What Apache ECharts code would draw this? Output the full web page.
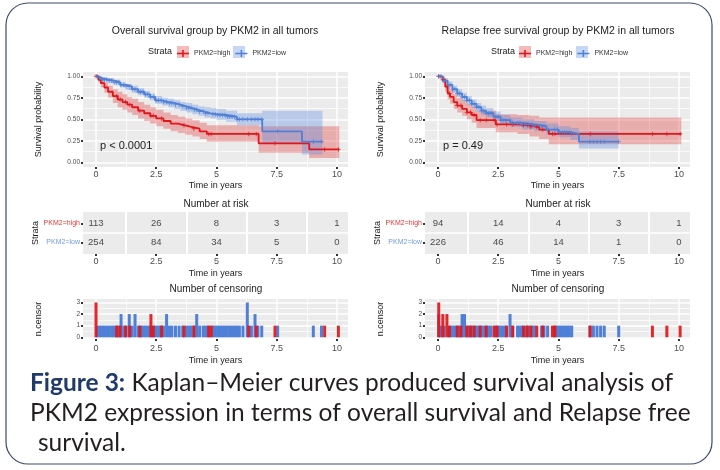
<!DOCTYPE html>
<html>
<head>
<meta charset="utf-8">
<script src="https://cdn.jsdelivr.net/npm/echarts@6/dist/echarts.min.js"></script>
<style>
  html, body { margin: 0; padding: 0; background: #fff; }
  #chart { width: 720px; height: 470px; }
</style>
</head>
<body>
<div id="chart"></div>
<script>
// ---- values ----
const strata = ['PKM2=high', 'PKM2=low'];
const panelTitles = ['Overall survival group by PKM2 in all tumors', 'Relapse free survival group by PKM2 in all tumors'];
const pValues = ['p < 0.0001', 'p = 0.49'];

const timeTicks = [0, 2.5, 5, 7.5, 10];
const timeMinor = [1.25, 3.75, 6.25, 8.75];
const survTicks = [0, 0.25, 0.5, 0.75, 1];
const survMinor = [0.125, 0.375, 0.625, 0.875];
const censorTicks = [0, 1, 2, 3];
const censorMinor = [0.5, 1.5, 2.5];

// overall survival, PKM2=high
const osHighTime  = [0, 0.1, 0.2, 0.35, 0.5, 0.7, 0.9, 1.1, 1.3, 1.5, 1.75, 2.0, 2.25, 2.5, 2.8, 3.1, 3.4, 3.7, 4.0, 4.3, 4.6, 6.75, 8.85, 10.1];
const osHighSurv  = [1, 0.96, 0.92, 0.87, 0.82, 0.77, 0.73, 0.7, 0.67, 0.64, 0.6, 0.57, 0.54, 0.51, 0.48, 0.45, 0.43, 0.41, 0.39, 0.36, 0.33, 0.22, 0.15, 0.15];
const osHighLower = [1, 0.93, 0.87, 0.81, 0.75, 0.69, 0.64, 0.61, 0.58, 0.55, 0.51, 0.48, 0.45, 0.42, 0.39, 0.36, 0.34, 0.32, 0.3, 0.27, 0.24, 0.11, 0.05, 0.05];
const osHighUpper = [1, 1, 0.97, 0.93, 0.89, 0.85, 0.82, 0.79, 0.76, 0.74, 0.7, 0.67, 0.64, 0.61, 0.58, 0.55, 0.53, 0.51, 0.49, 0.46, 0.43, 0.42, 0.42, 0.42];

// overall survival, PKM2=low
const osLowTime  = [0, 0.1, 0.25, 0.5, 0.75, 1.0, 1.25, 1.5, 1.75, 2.0, 2.25, 2.45, 2.75, 3.0, 3.25, 3.5, 3.75, 4.0, 4.25, 4.5, 4.75, 5.0, 5.4, 5.85, 6.9, 8.55, 9.4];
const osLowSurv  = [1, 0.98, 0.96, 0.95, 0.93, 0.9, 0.88, 0.85, 0.82, 0.79, 0.76, 0.72, 0.7, 0.69, 0.67, 0.65, 0.63, 0.61, 0.59, 0.57, 0.56, 0.55, 0.53, 0.5, 0.36, 0.24, 0.24];
const osLowLower = [1, 0.96, 0.94, 0.92, 0.9, 0.87, 0.84, 0.81, 0.78, 0.75, 0.72, 0.68, 0.66, 0.64, 0.62, 0.6, 0.58, 0.56, 0.54, 0.52, 0.51, 0.49, 0.47, 0.43, 0.22, 0.09, 0.09];
const osLowUpper = [1, 1, 0.99, 0.98, 0.96, 0.93, 0.91, 0.89, 0.86, 0.83, 0.8, 0.77, 0.75, 0.74, 0.72, 0.7, 0.69, 0.67, 0.65, 0.64, 0.63, 0.62, 0.6, 0.57, 0.6, 0.6, 0.6];

// relapse free survival, PKM2=high
const rfsHighTime  = [0, 0.1, 0.2, 0.3, 0.4, 0.5, 0.65, 0.8, 1.0, 1.2, 1.4, 1.6, 2.4, 3.3, 3.8, 4.2, 4.6, 10.1];
const rfsHighSurv  = [1, 0.99, 0.96, 0.88, 0.8, 0.76, 0.7, 0.66, 0.62, 0.58, 0.55, 0.49, 0.44, 0.43, 0.41, 0.38, 0.33, 0.33];
const rfsHighLower = [1, 0.97, 0.92, 0.82, 0.73, 0.68, 0.62, 0.58, 0.54, 0.5, 0.46, 0.4, 0.35, 0.33, 0.3, 0.27, 0.21, 0.21];
const rfsHighUpper = [1, 1, 1, 0.94, 0.87, 0.84, 0.79, 0.75, 0.72, 0.68, 0.65, 0.6, 0.56, 0.55, 0.54, 0.52, 0.52, 0.52];

// relapse free survival, PKM2=low
const rfsLowTime  = [0, 0.2, 0.4, 0.6, 0.8, 1.0, 1.2, 1.4, 1.6, 1.8, 2.0, 2.3, 2.6, 3.0, 3.5, 4.0, 4.5, 5.0, 5.5, 5.85, 7.5];
const rfsLowSurv  = [1, 0.95, 0.9, 0.85, 0.8, 0.76, 0.72, 0.68, 0.64, 0.6, 0.57, 0.53, 0.49, 0.46, 0.44, 0.42, 0.38, 0.35, 0.33, 0.24, 0.24];
const rfsLowLower = [1, 0.92, 0.86, 0.81, 0.76, 0.71, 0.67, 0.63, 0.59, 0.55, 0.52, 0.48, 0.44, 0.41, 0.38, 0.36, 0.32, 0.29, 0.26, 0.16, 0.16];
const rfsLowUpper = [1, 0.98, 0.94, 0.89, 0.85, 0.81, 0.77, 0.73, 0.69, 0.66, 0.63, 0.59, 0.55, 0.52, 0.5, 0.48, 0.45, 0.42, 0.4, 0.36, 0.36];

// number at risk
const riskTimes = [0, 2.5, 5, 7.5, 10];
const osHighRisk = [113, 26, 8, 3, 1];
const osLowRisk = [254, 84, 34, 5, 0];
const rfsHighRisk = [94, 14, 4, 3, 1];
const rfsLowRisk = [226, 46, 14, 1, 0];

// censoring: [time, n.censor]
const osHighCensor = [[0, 3], [0.86, 1], [1.0, 1], [1.23, 1], [1.4, 1], [1.82, 1], [2.28, 2], [2.38, 1], [2.72, 1], [3.65, 1], [4.06, 1], [4.68, 1], [4.78, 1], [6.34, 1], [6.65, 1], [7.43, 1], [9.49, 1], [10.06, 1]];
const osLowCensor = [[0.05, 1], [0.15, 1], [0.25, 1], [0.35, 1], [0.45, 1], [0.55, 1], [0.65, 1], [0.75, 1], [0.85, 1], [0.95, 1], [1.04, 2], [1.15, 1], [1.25, 1], [1.38, 2], [1.5, 1], [1.62, 2], [1.75, 1], [1.85, 1], [1.95, 1], [2.05, 1], [2.15, 1], [2.25, 1], [2.4, 1], [2.5, 1], [2.6, 1], [2.7, 1], [2.8, 1], [2.93, 2], [3.05, 1], [3.15, 1], [3.3, 1], [3.45, 1], [3.6, 1], [3.75, 1], [3.85, 1], [3.95, 1], [4.08, 1], [4.18, 2], [4.3, 1], [4.45, 1], [4.55, 1], [4.65, 1], [4.85, 1], [4.95, 1], [5.05, 1], [5.15, 1], [5.25, 1], [5.35, 1], [5.45, 1], [5.55, 1], [5.65, 1], [5.75, 1], [5.85, 1], [5.95, 1], [6.1, 1], [6.28, 3], [6.45, 1], [6.6, 2], [6.72, 1], [6.88, 1], [7.54, 1], [9.02, 1], [9.36, 1]];
const rfsHighCensor = [[0.03, 3], [0.2, 2], [0.37, 2], [0.47, 1], [0.8, 1], [0.95, 1], [1.2, 1], [1.35, 1], [1.5, 1], [1.75, 1], [2.0, 1], [2.33, 1], [2.45, 1], [2.85, 1], [3.1, 1], [3.55, 1], [3.7, 1], [3.85, 1], [4.1, 1], [4.35, 1], [4.75, 1], [4.85, 1], [6.32, 1], [8.9, 1], [9.5, 1], [10.05, 1]];
const rfsLowCensor = [[0.03, 2], [0.12, 1], [0.25, 1], [0.5, 1], [0.6, 1], [0.7, 1], [0.8, 1], [0.9, 1], [1.0, 2], [1.1, 2], [1.2, 1], [1.3, 1], [1.4, 1], [1.5, 1], [1.6, 1], [1.7, 1], [1.8, 1], [1.9, 1], [2.0, 1], [2.1, 1], [2.2, 1], [2.4, 1], [2.5, 1], [2.6, 1], [2.7, 1], [2.8, 1], [2.99, 2], [3.1, 1], [3.3, 1], [3.4, 1], [3.5, 1], [3.65, 1], [3.75, 1], [3.9, 1], [4.0, 1], [4.3, 1], [4.4, 1], [4.55, 1], [4.85, 1], [4.95, 1], [5.05, 1], [5.15, 1], [5.25, 1], [5.35, 1], [5.45, 1], [5.55, 1], [6.3, 1], [6.45, 1], [6.6, 1], [6.75, 1], [6.9, 1], [7.5, 1]];

// ---- chart ----
const FONT = '"Liberation Sans", Arial, sans-serif';
const RED = '#e0161b', BLUE = '#4f7fd6';
const RED_BAND = 'rgba(226,50,50,0.33)', BLUE_BAND = 'rgba(90,140,225,0.35)';
const PLUS = 'path://M4,0h2v4h4v2h-4v4h-2v-4h-4v-2h4z';

const panels = [
  { left: 83, high: [osHighTime, osHighSurv, osHighLower, osHighUpper, osHighCensor, osHighRisk],
    low: [osLowTime, osLowSurv, osLowLower, osLowUpper, osLowCensor, osLowRisk] },
  { left: 425, high: [rfsHighTime, rfsHighSurv, rfsHighLower, rfsHighUpper, rfsHighCensor, rfsHighRisk],
    low: [rfsLowTime, rfsLowSurv, rfsLowLower, rfsLowUpper, rfsLowCensor, rfsLowRisk] }
];

const grids = [], xAxes = [], yAxes = [], series = [];

function stepValue(times, surv, t) {
  let v = surv[0];
  for (let i = 0; i < times.length; i++) if (times[i] <= t) v = surv[i];
  return v;
}

// a visible axis plus an invisible twin that only carries the minor grid lines
function addAxis(list, gridIndex, base, major, minor, majorWidth, minorWidth) {
  const common = { gridIndex, type: 'value', min: base.min, max: base.max, axisLine: { show: false, onZero: false } };
  list.push(Object.assign({}, common, base, {
    axisTick: { show: true, length: 2, lineStyle: { color: '#333', width: 2 }, customValues: major },
    axisLabel: Object.assign({ customValues: major, fontFamily: FONT, color: '#4d4d4d' }, base.axisLabel),
    splitLine: { show: majorWidth > 0, lineStyle: { color: '#fff', width: majorWidth } }
  }));
  const idx = list.length - 1;
  if (minor) {
    list.push(Object.assign({}, common, {
      axisTick: { show: false, customValues: minor },
      axisLabel: { show: false, customValues: minor },
      splitLine: { show: true, lineStyle: { color: '#fff', width: minorWidth } }
    }));
  }
  return idx;
}

const nameStyle = { fontSize: 9, color: '#222', fontFamily: FONT };
const timeLabel = (margin) => ({ fontSize: 9, margin, formatter: v => String(v) });

function bandSeries(times, lo, hi, color, xi, yi) {
  return {
    type: 'custom', xAxisIndex: xi, yAxisIndex: yi, silent: true, z: 1,
    data: times.map((t, i) => [t, lo[i], hi[i]]),
    encode: { x: 0, y: [1, 2] },
    renderItem(params, api) {
      if (params.dataIndex !== 0) return null;
      const pts = [];
      for (let i = 0; i < times.length - 1; i++) {
        pts.push(api.coord([times[i], hi[i]]), api.coord([times[i + 1], hi[i]]));
      }
      for (let i = times.length - 2; i >= 0; i--) {
        pts.push(api.coord([times[i + 1], lo[i]]), api.coord([times[i], lo[i]]));
      }
      return { type: 'polygon', shape: { points: pts }, style: { fill: color } };
    }
  };
}

panels.forEach((p) => {
  // survival curves
  const gKm = grids.push({ left: p.left, top: 72, width: 265, height: 95, show: true, backgroundColor: '#ebebeb', borderWidth: 0 }) - 1;
  const xKm = addAxis(xAxes, gKm, { min: -0.54, max: 10.46, name: 'Time in years', nameLocation: 'middle', nameGap: 14, nameTextStyle: nameStyle, axisLabel: timeLabel(3) }, timeTicks, timeMinor, 1.5, 0.7);
  const yKm = addAxis(yAxes, gKm, { min: -0.055, max: 1.05, name: 'Survival probability', nameLocation: 'middle', nameGap: 40, nameTextStyle: nameStyle,
    axisLabel: { fontSize: 6.5, margin: 3, formatter: v => v.toFixed(2) } }, survTicks, survMinor, 1.5, 0.7);

  [['high', RED_BAND], ['low', BLUE_BAND]].forEach(([k, band]) => {
    const [times, , lo, hi] = p[k];
    series.push(bandSeries(times, lo, hi, band, xKm, yKm));
  });
  [['high', RED, 0], ['low', BLUE, 1]].forEach(([k, c, si]) => {
    const [times, surv, , , cens] = p[k];
    series.push({
      type: 'line', name: strata[si], xAxisIndex: xKm, yAxisIndex: yKm, step: 'end', z: 3,
      data: times.map((t, i) => [t, surv[i]]), showSymbol: false, symbol: 'none',
      lineStyle: { color: c, width: 1.8 }, itemStyle: { color: c }
    });
    series.push({
      type: 'scatter', name: strata[si] + ' censor', xAxisIndex: xKm, yAxisIndex: yKm, z: 4,
      symbol: PLUS, symbolSize: 4.5, itemStyle: { color: c },
      data: cens.map(([t]) => [t, stepValue(times, surv, t)])
    });
  });

  // number at risk
  const gRisk = grids.push({ left: p.left, top: 212, width: 265, height: 42, show: true, backgroundColor: '#ebebeb', borderWidth: 0 }) - 1;
  const xRisk = addAxis(xAxes, gRisk, { min: -0.54, max: 10.46, name: 'Time in years', nameLocation: 'middle', nameGap: 15, nameTextStyle: nameStyle, axisLabel: timeLabel(3) }, timeTicks, timeMinor, 0, 2);
  const yRisk = addAxis(yAxes, gRisk, { min: 0.4, max: 2.6, name: 'Strata', nameLocation: 'middle', nameGap: 41, nameTextStyle: nameStyle,
    axisLabel: { margin: 3, formatter: v => (v === 2 ? '{h|PKM2=high}' : '{l|PKM2=low}'),
      rich: { h: { color: '#e03838', fontSize: 7, fontFamily: FONT }, l: { color: '#6f9ce0', fontSize: 7, fontFamily: FONT } } } }, [1, 2], [1.5], 0, 1.5);
  [['high', 2], ['low', 1]].forEach(([k, row]) => {
    const risk = p[k][5];
    series.push({
      type: 'scatter', name: 'risk ' + k, xAxisIndex: xRisk, yAxisIndex: yRisk, z: 3,
      symbolSize: 1, itemStyle: { color: 'rgba(0,0,0,0)' },
      data: riskTimes.map((t, i) => [t, row, risk[i]]),
      label: { show: true, position: 'inside', formatter: q => q.value[2], fontSize: 9.5, color: '#1a1a1a', fontFamily: FONT }
    });
  });

  // number of censoring
  const gCen = grids.push({ left: p.left, top: 299, width: 265, height: 40, show: true, backgroundColor: '#ebebeb', borderWidth: 0 }) - 1;
  const xCen = addAxis(xAxes, gCen, { min: -0.54, max: 10.46, name: 'Time in years', nameLocation: 'middle', nameGap: 17, nameTextStyle: nameStyle, axisLabel: timeLabel(5) }, timeTicks, timeMinor, 1.5, 0.7);
  const yCen = addAxis(yAxes, gCen, { min: -0.15, max: 3.3, name: 'n.censor', nameLocation: 'middle', nameGap: 40, nameTextStyle: nameStyle,
    axisLabel: { fontSize: 6.5, margin: 3 } }, censorTicks, censorMinor, 1.5, 0.7);
  [['low', BLUE], ['high', RED]].forEach(([k, c]) => {
    series.push({
      type: 'bar', name: 'censor ' + k, xAxisIndex: xCen, yAxisIndex: yCen, z: 3,
      barWidth: 3, barGap: '-100%', itemStyle: { color: c, opacity: k === 'high' ? 0.92 : 1 },
      data: p[k][4]
    });
  });
});

const txt = (x, y, text, size, extra) => ({
  type: 'text', x, y, silent: true, z: 10,
  style: Object.assign({ text, fontSize: size, fontFamily: FONT, fill: '#222', textAlign: 'center', textVerticalAlign: 'middle' }, extra || {})
});

const legendKeys = [[177, RED_BAND], [233, BLUE_BAND], [519, RED_BAND], [576, BLUE_BAND]];
const CAP = 24.5;

const graphic = [
  { type: 'rect', silent: true, z: 0, shape: { x: 6, y: 3, width: 706, height: 461, r: 22 }, style: { fill: 'none', stroke: '#3d4a6d', lineWidth: 1.2 } },
  txt(215, 31, panelTitles[0], 10.5),
  txt(558, 31, panelTitles[1], 10.5),
  txt(160, 52, 'Strata', 9),
  txt(503, 52, 'Strata', 9),
  txt(100, 146, pValues[0], 11, { textAlign: 'left' }),
  txt(443, 146, pValues[1], 11, { textAlign: 'left' }),
  txt(216, 204, 'Number at risk', 10),
  txt(558, 204, 'Number at risk', 10),
  txt(216, 289, 'Number of censoring', 10),
  txt(558, 289, 'Number of censoring', 10),
  {
    type: 'text', x: 30, y: 383, silent: true, z: 10,
    style: { text: '{b|Figure 3:} Kaplan\u2013Meier curves produced survival analysis of', fontSize: CAP, fontFamily: 'Lato', fill: '#231f20', textVerticalAlign: 'middle',
      rich: { b: { fontWeight: 'bold', fill: '#1f3a6b', color: '#1f3a6b', fontSize: CAP, fontFamily: 'Lato' } } }
  },
  txt(30, 413, 'PKM2 expression in terms of overall survival and Relapse free', CAP, { fontFamily: 'Lato', fill: '#231f20', textAlign: 'left' }),
  txt(38, 443, 'survival.', CAP, { fontFamily: 'Lato', fill: '#231f20', textAlign: 'left' })
].concat(legendKeys.map(([x, c]) => ({ type: 'rect', silent: true, z: 1, shape: { x, y: 46, width: 12, height: 12 }, style: { fill: c } })));

const legendBase = {
  top: 50, itemWidth: 12, itemHeight: 12, itemGap: 5, padding: 0, selectedMode: false, z: 5,
  textStyle: { fontSize: 7, color: '#333', fontFamily: FONT },
  data: strata.map(name => ({ name, icon: 'path://M0,5.2H12V6.8H0Z M5.2,2.5H6.8V9.5H5.2Z' }))
};

const chart = echarts.init(document.getElementById('chart'));
chart.setOption({
  animation: false,
  backgroundColor: '#fff',
  grid: grids,
  xAxis: xAxes,
  yAxis: yAxes,
  legend: [Object.assign({ left: 177 }, legendBase), Object.assign({ left: 519 }, legendBase)],
  graphic,
  series
});
</script>
</body>
</html>
